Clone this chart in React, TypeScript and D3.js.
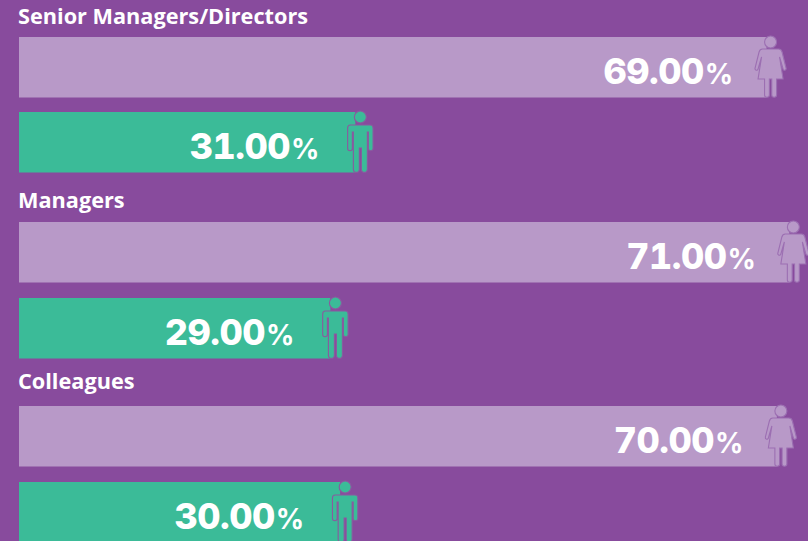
import React, { useEffect, useRef } from 'react';
import * as d3 from 'd3';

const groups = ['Senior Managers/Directors', 'Managers', 'Colleagues'];
const femaleValues = [69, 71, 70];
const maleValues = [31, 29, 30];
// bar lengths, they run a bit short of the printed label
const femaleLengths = [68.9, 71, 69.85];
const maleLengths = [31, 28.7, 29.6];

const width = 808;
const height = 541;

const PURPLE = '#884b9d';
const LILAC = '#b899c8';
const GREEN = '#3bbb98';

const titleY = [24, 208, 389];
const femaleTop = [37, 222, 406];
const maleTop = [112, 298, 482];
const barH = 60.5;

// icons drawn in a local box, bar top at y=0, feet at y=60, centred on x=0
const femaleIcon =
  'M-8,12 L8,12 C10,12 11,13 11.5,15 L15.5,31 C16,33.5 13,34 12.5,32 L9,20 L12.5,42 L6,42 L6,58 C6,61 1.2,61 1.2,58 L1.2,42 L-1.2,42 L-1.2,58 C-1.2,61 -6,61 -6,58 L-6,42 L-12.5,42 L-9,20 L-12.5,32 C-13,34 -16,33.5 -15.5,31 L-11.5,15 C-11,13 -10,12 -8,12 Z';
const maleIcon =
  'M-10,13 L10,13 C11.8,13 12.7,14 12.7,16 L12.7,36.5 C12.7,39.5 8,39.5 8,36.5 L8,20 L7,20 L7,57 C7,61.5 1,61.5 1,57 L1,36 L-1,36 L-1,57 C-1,61.5 -7,61.5 -7,57 L-7,20 L-8,20 L-8,36.5 C-8,39.5 -12.7,39.5 -12.7,36.5 L-12.7,16 C-12.7,14 -11.8,13 -10,13 Z';

export default function App() {
  const svgRef = useRef<SVGSVGElement>(null);

  useEffect(() => {
    const svg = d3.select(svgRef.current);
    svg.selectAll('*').remove();

    const x = d3.scaleLinear().domain([0, 100]).range([19, 1104]);

    svg.append('rect').attr('width', width).attr('height', height).attr('fill', PURPLE);

    svg
      .selectAll('text.title')
      .data(groups)
      .join('text')
      .attr('class', 'title')
      .attr('x', 18)
      .attr('y', (d, i) => titleY[i])
      .attr('fill', '#fff')
      .attr('font-family', '"Open Sans"')
      .attr('font-weight', 700)
      .attr('font-size', 21.7)
      .text(d => d);

    const drawBars = (
      values: number[],
      lengths: number[],
      tops: number[],
      color: string,
      icon: string,
      iconStroke: string,
      iconOffset: number,
      labelGap: number
    ) => {
      const g = svg.append('g');
      g.selectAll('rect')
        .data(lengths)
        .join('rect')
        .attr('x', x(0))
        .attr('y', (d, i) => tops[i])
        .attr('width', d => x(d) - x(0))
        .attr('height', barH)
        .attr('fill', color);

      const people = g
        .selectAll('g.person')
        .data(lengths)
        .join('g')
        .attr('class', 'person')
        .attr('transform', (d, i) => `translate(${x(d) + iconOffset},${tops[i]})`);
      people
        .append('circle')
        .attr('cy', 5)
        .attr('r', 6)
        .attr('fill', color)
        .attr('stroke', iconStroke)
        .attr('stroke-width', 1.1);
      people
        .append('path')
        .attr('d', icon)
        .attr('fill', color)
        .attr('stroke', iconStroke)
        .attr('stroke-width', 1.1);

      const label = g
        .selectAll('text.value')
        .data(values)
        .join('text')
        .attr('class', 'value')
        .attr('x', (d, i) => x(lengths[i]) - labelGap)
        .attr('y', (d, i) => tops[i] + 47)
        .attr('text-anchor', 'end')
        .attr('fill', '#fff')
        .attr('font-family', 'Inter')
        .attr('font-weight', 800)
        .attr('font-size', 36)
        .style('font-variant-numeric', 'tabular-nums');
      label
        .append('tspan')
        .attr('letter-spacing', -0.5)
        .text(d => d.toFixed(2));
      label
        .append('tspan')
        .attr('dx', 1)
        .attr('font-size', 28)
        .attr('font-weight', 700)
        .text('%');
    };

    drawBars(femaleValues, femaleLengths, femaleTop, LILAC, femaleIcon, '#9c6fb2', 4, 33.5);
    drawBars(maleValues, maleLengths, maleTop, GREEN, maleIcon, '#8a5a9f', 5, 36);
  }, []);

  return (
    <svg
      ref={svgRef}
      width={width}
      height={height}
      style={{ position: 'absolute', left: 0, top: 0 }}
    />
  );
}
